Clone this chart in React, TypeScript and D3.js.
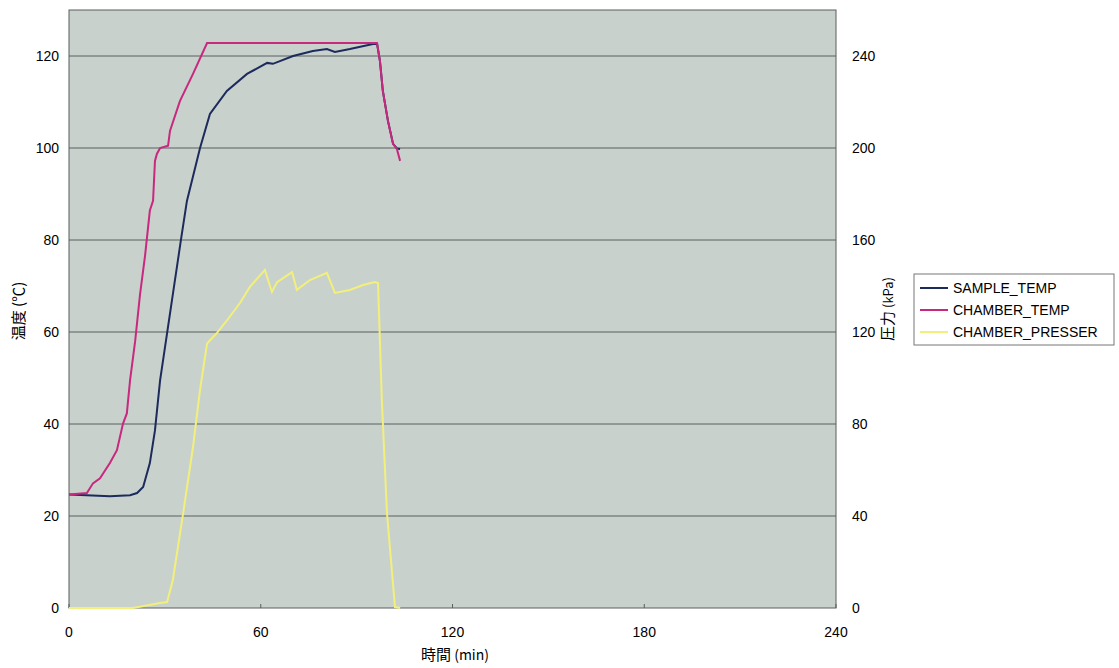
import React, { useEffect, useRef } from "react";
import * as d3 from "d3";

// readings taken off the chart: [time(min), value]
const sampleTemp: [number, number][] = [
  [0, 24.7], [12.8, 24.3], [19.1, 24.5], [21.3, 25.0], [23.2, 26.3], [25.3, 31.5],
  [26.9, 38.6], [28.5, 49.5], [32.2, 66.8], [35.0, 79.9], [36.9, 88.5], [41.0, 100],
  [44.1, 107.4], [49.4, 112.4], [55.7, 116.1], [62.0, 118.5], [63.8, 118.3],
  [70.1, 120], [76.3, 121.1], [80.7, 121.5], [83.2, 120.9], [87.9, 121.5],
  [95.1, 122.6], [96.4, 122.6], [97.3, 118.9], [98.2, 112.4], [99.8, 105.9],
  [101.4, 100.9], [102.6, 99.9], [103.6, 99.8],
];
const chamberTemp: [number, number][] = [
  [0, 24.7], [5.6, 25.0], [7.5, 27.1], [9.7, 28.2], [12.8, 31.5], [15.0, 34.3],
  [16.9, 40.1], [18.1, 42.3], [19.1, 49.5], [20.7, 58], [22.2, 68], [23.8, 76.6],
  [25.3, 86.4], [26.3, 88.5], [26.9, 97.2], [27.5, 98.7], [28.5, 100], [31, 100.5],
  [31.6, 103.7], [34.7, 110.2], [38.8, 116.1], [43.2, 122.8], [96.4, 122.8],
  [97.3, 118.9], [98.2, 112.4], [99.8, 105.9], [101.4, 100.9], [102.6, 99.8], [103.6, 97.2],
];
const chamberPresser: [number, number][] = [
  [0, 0], [20, 0], [28.5, 2.2], [30.7, 2.6], [32.5, 12.2], [35.7, 41], [38.8, 70],
  [41.0, 94.8], [43.2, 115], [46.3, 119.6], [49.4, 125], [53.5, 132.6], [56.6, 139.6],
  [61.3, 147], [63.5, 137.4], [65.1, 141.7], [69.8, 146], [71.3, 138.3], [75.4, 142.6],
  [80.7, 145.7], [83.2, 137], [87.9, 138.3], [92.0, 140.4], [95.7, 141.7], [96.7, 141.3],
  [97.9, 90], [99.5, 41.3], [102, 0.4], [103.6, 0],
];

const xTicks = [0, 60, 120, 180, 240];
const leftTicks = [0, 20, 40, 60, 80, 100, 120];
const rightTicks = [0, 40, 80, 120, 160, 200, 240];
const seriesNames = ["SAMPLE_TEMP", "CHAMBER_TEMP", "CHAMBER_PRESSER"];
const seriesColors = ["#1c2a5c", "#c8287e", "#f2f07a"];

const numFont = "'Liberation Sans', Arial, sans-serif";
const jpFont = "'Noto Sans CJK JP', sans-serif";

export default function App() {
  const ref = useRef<SVGSVGElement>(null);

  useEffect(() => {
    const svg = d3.select(ref.current);
    svg.selectAll("*").remove();

    const left = 69, right = 836, top = 10, bottom = 608;
    const x = d3.scaleLinear().domain([0, 240]).range([left, right]);
    const yL = d3.scaleLinear().domain([0, 130]).range([bottom, top]);
    const yR = d3.scaleLinear().domain([0, 260]).range([bottom, top]);

    // plot background
    svg.append("rect")
      .attr("x", left).attr("y", top)
      .attr("width", right - left).attr("height", bottom - top)
      .attr("fill", "#c9d1cd");

    // grid lines
    svg.append("g").selectAll("line")
      .data(leftTicks.slice(1))
      .enter().append("line")
      .attr("x1", left).attr("x2", right)
      .attr("y1", d => yL(d)).attr("y2", d => yL(d))
      .attr("stroke", "#5a5e5c").attr("stroke-width", 1);

    svg.append("rect")
      .attr("x", left).attr("y", top)
      .attr("width", right - left).attr("height", bottom - top)
      .attr("fill", "none").attr("stroke", "#5a5e5c").attr("stroke-width", 1);

    // small ticks on bottom axis
    svg.append("g").selectAll("line")
      .data(xTicks)
      .enter().append("line")
      .attr("x1", d => x(d)).attr("x2", d => x(d))
      .attr("y1", bottom).attr("y2", bottom - 4)
      .attr("stroke", "#5a5e5c");

    // tick labels
    svg.append("g").selectAll("text")
      .data(xTicks)
      .enter().append("text")
      .attr("x", d => x(d)).attr("y", 637)
      .attr("text-anchor", "middle")
      .attr("font-family", numFont).attr("font-size", 14)
      .text(d => d);

    svg.append("g").selectAll("text")
      .data(leftTicks)
      .enter().append("text")
      .attr("x", 59).attr("y", d => yL(d) + 5)
      .attr("text-anchor", "end")
      .attr("font-family", numFont).attr("font-size", 14)
      .text(d => d);

    svg.append("g").selectAll("text")
      .data(rightTicks)
      .enter().append("text")
      .attr("x", 852).attr("y", d => yR(d) + 5)
      .attr("text-anchor", "start")
      .attr("font-family", numFont).attr("font-size", 14)
      .text(d => d);

    // axis titles
    const xt = svg.append("text")
      .attr("x", 455).attr("y", 660)
      .attr("text-anchor", "middle")
      .attr("font-family", jpFont).attr("font-size", 15);
    xt.append("tspan").text("時間");
    xt.append("tspan").attr("font-size", 14).text(" (min)");

    svg.append("text")
      .attr("transform", "translate(24,311) rotate(-90)")
      .attr("text-anchor", "middle")
      .attr("font-family", jpFont).attr("font-size", 15)
      .text("温度 (℃)");

    const rt = svg.append("text")
      .attr("transform", "translate(893,309) rotate(-90)")
      .attr("text-anchor", "middle")
      .attr("font-family", jpFont).attr("font-size", 15);
    rt.append("tspan").text("圧力");
    rt.append("tspan").attr("font-size", 13).text(" (kPa)");

    // series
    const lineL = d3.line<[number, number]>().x(d => x(d[0])).y(d => yL(d[1]));
    const lineR = d3.line<[number, number]>().x(d => x(d[0])).y(d => yR(d[1]));

    svg.append("path").datum(chamberPresser)
      .attr("d", lineR).attr("fill", "none")
      .attr("stroke", seriesColors[2]).attr("stroke-width", 2);
    svg.append("path").datum(sampleTemp)
      .attr("d", lineL).attr("fill", "none")
      .attr("stroke", seriesColors[0]).attr("stroke-width", 2);
    svg.append("path").datum(chamberTemp)
      .attr("d", lineL).attr("fill", "none")
      .attr("stroke", seriesColors[1]).attr("stroke-width", 2);

    // legend
    const lg = svg.append("g").attr("transform", "translate(914,274)");
    lg.append("rect")
      .attr("width", 200).attr("height", 71)
      .attr("fill", "#fff").attr("stroke", "#777");
    const item = lg.selectAll("g.item")
      .data(seriesNames)
      .enter().append("g")
      .attr("transform", (d, i) => "translate(0," + (14 + i * 22) + ")");
    item.append("line")
      .attr("x1", 6).attr("x2", 34)
      .attr("stroke", (d, i) => seriesColors[i]).attr("stroke-width", 2);
    item.append("text")
      .attr("x", 39).attr("y", 5)
      .attr("font-family", numFont).attr("font-size", 14)
      .text(d => d);
  }, []);

  return (
    <svg ref={ref} width={1119} height={668}
      style={{ position: "absolute", left: 0, top: 0, background: "#fff" }} />
  );
}
